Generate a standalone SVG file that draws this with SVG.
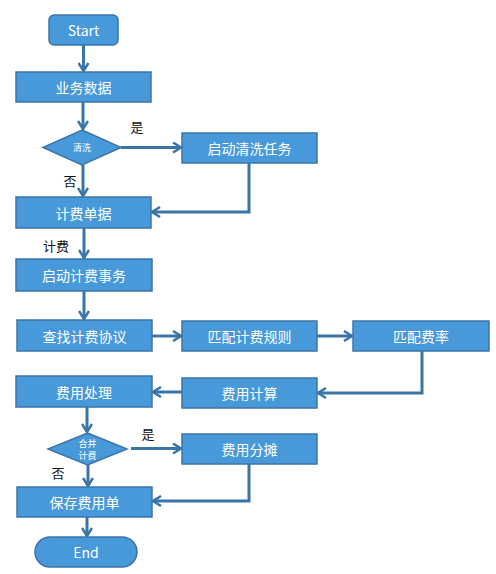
<svg xmlns="http://www.w3.org/2000/svg" width="496" height="574" viewBox="0 0 496 574">
<style>
.box{fill:#4799da;stroke:#3b75a8;stroke-width:1.5}
.t{fill:#ffffff;font-family:"Noto Sans CJK SC","Liberation Sans",sans-serif;font-size:14px;text-anchor:middle;dominant-baseline:central}
.ts{fill:#ffffff;font-family:"Noto Sans CJK SC",sans-serif;font-size:9px;text-anchor:middle;dominant-baseline:central}
.lbl{fill:#111111;font-family:"Noto Sans CJK SC",sans-serif;font-size:13px;text-anchor:middle;dominant-baseline:central}
.c{fill:none;stroke:#3b75a8;stroke-width:3}
</style>
<defs>
<marker id="ah" viewBox="0 0 12 12" refX="10" refY="6" markerWidth="12" markerHeight="12" markerUnits="userSpaceOnUse" orient="auto">
<path d="M2,1 L10,6 L2,11" fill="none" stroke="#3b75a8" stroke-width="2.5"/>
</marker>
</defs>
<rect width="496" height="574" fill="#ffffff"/>
<g id="connectors">
<path class="c" d="M83.5,45 V71" marker-end="url(#ah)"/>
<path class="c" d="M83,102 V129" marker-end="url(#ah)"/>
<path class="c" d="M121,147.5 H181" marker-end="url(#ah)"/>
<path class="c" d="M83,165 V196" marker-end="url(#ah)"/>
<path class="c" d="M249,163 V212 H152" marker-end="url(#ah)"/>
<path class="c" d="M84,228 V258" marker-end="url(#ah)"/>
<path class="c" d="M84,291 V319" marker-end="url(#ah)"/>
<path class="c" d="M152,336 H181" marker-end="url(#ah)"/>
<path class="c" d="M317,336 H352" marker-end="url(#ah)"/>
<path class="c" d="M422,351 V393 H318" marker-end="url(#ah)"/>
<path class="c" d="M182,392 H153" marker-end="url(#ah)"/>
<path class="c" d="M87,407 V432" marker-end="url(#ah)"/>
<path class="c" d="M131,448.5 H181" marker-end="url(#ah)"/>
<path class="c" d="M88,465 V486" marker-end="url(#ah)"/>
<path class="c" d="M249,464 V501 H153" marker-end="url(#ah)"/>
<path class="c" d="M87,517 V536" marker-end="url(#ah)"/>
</g>
<g id="start"><rect class="box" x="49" y="15" width="69" height="30" rx="5"/><text class="t" x="83.5" y="30">Start</text></g>
<g id="yewushuju"><rect class="box" x="16" y="72" width="135" height="30"/><text class="t" x="83.5" y="87">业务数据</text></g>
<g id="qingxi"><polygon class="box" points="82,130 121,147.5 82,165 43,147.5"/><text class="ts" x="82" y="147.5">清洗</text></g>
<g id="qidongqingxi"><rect class="box" x="182" y="133" width="135" height="30"/><text class="t" x="249.5" y="148">启动清洗任务</text></g>
<g id="jifeidanju"><rect class="box" x="16" y="197" width="135" height="31"/><text class="t" x="83.5" y="212.5">计费单据</text></g>
<g id="qidongjifei"><rect class="box" x="16" y="259" width="136" height="32"/><text class="t" x="84" y="275">启动计费事务</text></g>
<g id="chazhao"><rect class="box" x="17" y="320" width="135" height="31"/><text class="t" x="84.5" y="335.5">查找计费协议</text></g>
<g id="pipeiguize"><rect class="box" x="182" y="321" width="135" height="30"/><text class="t" x="249.5" y="336">匹配计费规则</text></g>
<g id="pipeifeilv"><rect class="box" x="353" y="321" width="136" height="30"/><text class="t" x="421" y="336">匹配费率</text></g>
<g id="feiyongchuli"><rect class="box" x="16" y="376" width="136" height="31"/><text class="t" x="84" y="391.5">费用处理</text></g>
<g id="feiyongjisuan"><rect class="box" x="182" y="378" width="135" height="30"/><text class="t" x="249.5" y="393">费用计算</text></g>
<g id="hebing"><polygon class="box" points="87.5,433 127,449 87.5,465 48,449"/><text class="ts" x="87.5" y="443">合并</text><text class="ts" x="87.5" y="455">计费</text></g>
<g id="fentan"><rect class="box" x="182" y="434" width="135" height="30"/><text class="t" x="249.5" y="449">费用分摊</text></g>
<g id="baocun"><rect class="box" x="17" y="487" width="135" height="30"/><text class="t" x="84.5" y="502">保存费用单</text></g>
<g id="end"><rect class="box" x="35" y="537" width="102" height="30" rx="15"/><text class="t" x="86" y="552">End</text></g>
<g id="labels">
<text class="lbl" x="137" y="126">是</text>
<text class="lbl" x="70" y="180">否</text>
<text class="lbl" x="56" y="245">计费</text>
<text class="lbl" x="148" y="433">是</text>
<text class="lbl" x="58" y="472">否</text>
</g>
</svg>
